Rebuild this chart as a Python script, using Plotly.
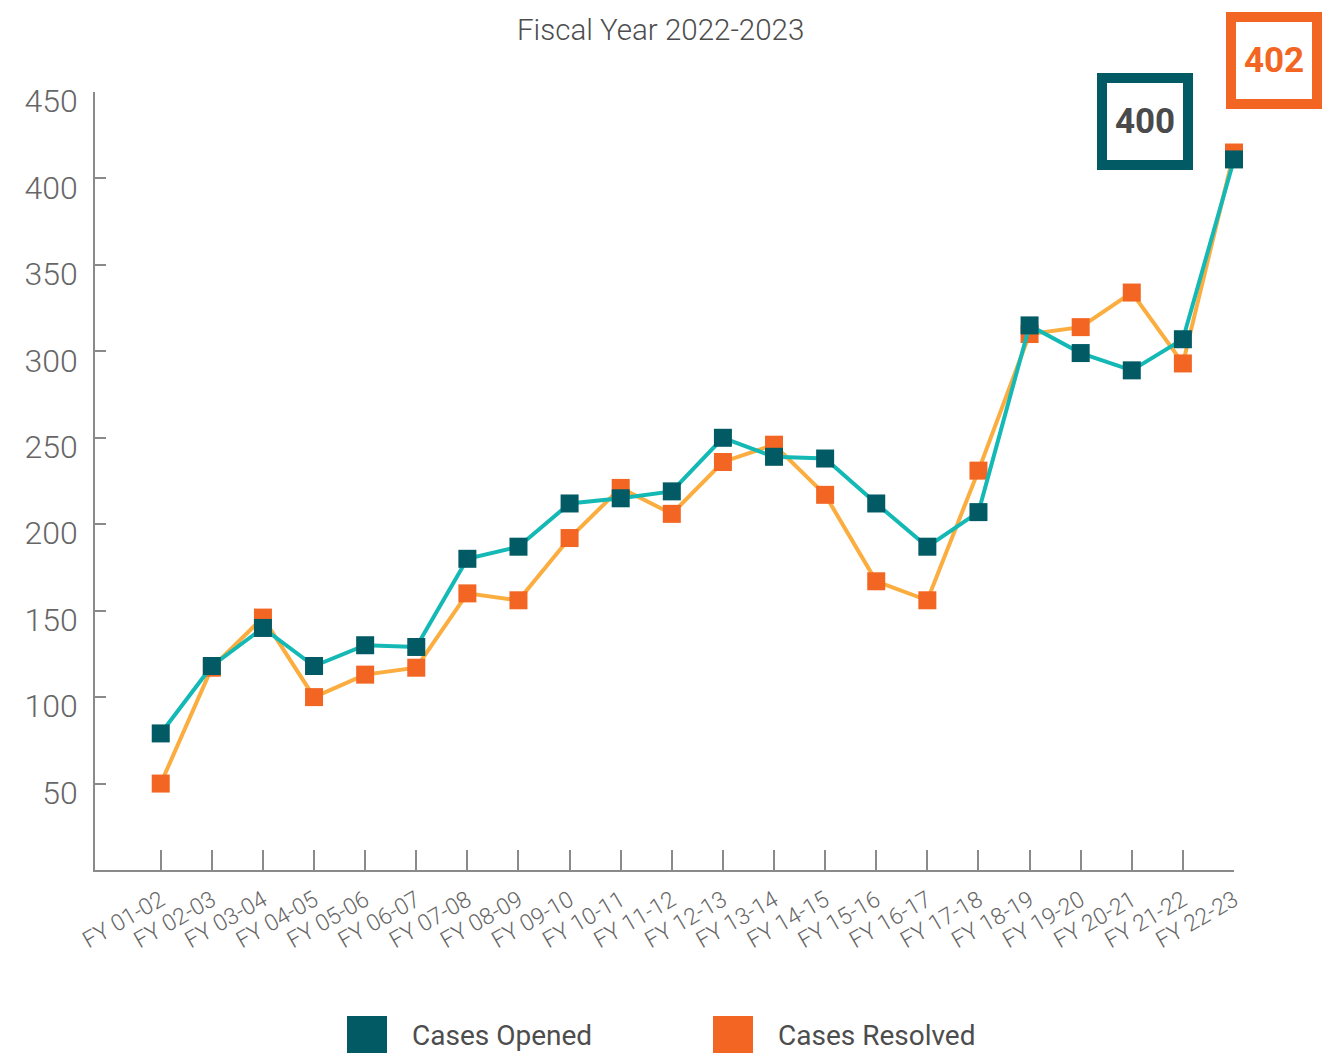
import plotly.graph_objects as go

categories = ["FY 01-02", "FY 02-03", "FY 03-04", "FY 04-05", "FY 05-06", "FY 06-07",
              "FY 07-08", "FY 08-09", "FY 09-10", "FY 10-11", "FY 11-12", "FY 12-13",
              "FY 13-14", "FY 14-15", "FY 15-16", "FY 16-17", "FY 17-18", "FY 18-19",
              "FY 19-20", "FY 20-21", "FY 21-22", "FY 22-23"]
cases_opened = [79, 118, 140, 118, 130, 129, 180, 187, 212, 215, 219, 250,
                239, 238, 212, 187, 207, 315, 299, 289, 307, 411]
cases_resolved = [50, 117, 146, 100, 113, 117, 160, 156, 192, 221, 206, 236,
                  246, 217, 167, 156, 231, 310, 314, 334, 293, 415]
y_ticks = [50, 100, 150, 200, 250, 300, 350, 400, 450]
title_text = "Fiscal Year 2022-2023"
label_opened = "400"
label_resolved = "402"

TEAL_DARK = "#015a64"
TEAL_LINE = "#14b9b5"
ORANGE = "#f26522"
ORANGE_LINE = "#fbad3f"
GRAY = "#666666"
AXIS = "#8a8a8a"
FONT = "Roboto"

W, H = 1342, 1053
L, R, T, B = 95, 108, 92, 183
PW, PH = W - L - R, H - T - B


def px(x):
    return (x - L) / PW


def py(y):
    return (H - B - y) / PH


fig = go.Figure()
fig.add_trace(go.Scatter(
    x=categories, y=cases_resolved, name="Cases Resolved", mode="lines+markers",
    line=dict(color=ORANGE_LINE, width=4),
    marker=dict(symbol="square", size=18, color=ORANGE),
    cliponaxis=False, showlegend=False))
fig.add_trace(go.Scatter(
    x=categories, y=cases_opened, name="Cases Opened", mode="lines+markers",
    line=dict(color=TEAL_LINE, width=4),
    marker=dict(symbol="square", size=18, color=TEAL_DARK),
    cliponaxis=False, showlegend=False))

n = len(categories)
fig.update_xaxes(
    type="category", range=[-1.286, n - 1],
    showline=True, linecolor=AXIS, linewidth=1.5,
    ticks="inside", ticklen=20, tickcolor=AXIS, tickwidth=1.5,
    tickangle=-30, tickfont=dict(family=FONT, size=23, color=GRAY, weight=300),
    ticklabelstandoff=6,
    showgrid=False, zeroline=False,
)
fig.update_yaxes(
    range=[0, 450], tickvals=y_ticks,
    showline=True, linecolor=AXIS, linewidth=1.5,
    ticks="inside", ticklen=11, tickcolor=AXIS, tickwidth=1.5,
    tickfont=dict(family=FONT, size=32, color=GRAY, weight=300),
    ticklabelshift=9, ticklabelstandoff=9,
    showgrid=False, zeroline=False,
)

annotations = [
    dict(text=title_text, xref="paper", yref="paper", x=px(660), y=py(30),
         xanchor="center", yanchor="middle", showarrow=False,
         font=dict(family=FONT, size=29.5, color="#4d4d4d", weight=300)),
    dict(text="<b>%s</b>" % label_opened, xref="paper", yref="paper",
         x=px(1145), y=py(121.5), xanchor="center", yanchor="middle", showarrow=False,
         width=76, height=77, borderwidth=10, borderpad=0, bordercolor=TEAL_DARK,
         bgcolor="white", font=dict(family=FONT, size=35, color="#4a4a4c")),
    dict(text="<b>%s</b>" % label_resolved, xref="paper", yref="paper",
         x=px(1273.5), y=py(60), xanchor="center", yanchor="middle", showarrow=False,
         width=76, height=77, borderwidth=10, borderpad=0, bordercolor=ORANGE,
         bgcolor="white", font=dict(family=FONT, size=35, color=ORANGE)),
    dict(text="Cases Opened", xref="paper", yref="paper", x=px(410), y=py(1035),
         xanchor="left", yanchor="middle", showarrow=False,
         font=dict(family=FONT, size=28, color="#4d4d4d")),
    dict(text="Cases Resolved", xref="paper", yref="paper", x=px(776), y=py(1035),
         xanchor="left", yanchor="middle", showarrow=False,
         font=dict(family=FONT, size=28, color="#4d4d4d")),
]

shapes = [
    dict(type="rect", xref="paper", yref="paper", x0=px(347), x1=px(387),
         y0=py(1016), y1=py(1056), fillcolor=TEAL_DARK, line=dict(width=0)),
    dict(type="rect", xref="paper", yref="paper", x0=px(713), x1=px(753),
         y0=py(1016), y1=py(1056), fillcolor=ORANGE, line=dict(width=0)),
]

fig.update_layout(
    width=W, height=H, margin=dict(l=L, r=R, t=T, b=B, autoexpand=False),
    paper_bgcolor="white", plot_bgcolor="white",
    annotations=annotations, shapes=shapes, showlegend=False,
    font=dict(family=FONT),
)

fig.write_html("out.html")
